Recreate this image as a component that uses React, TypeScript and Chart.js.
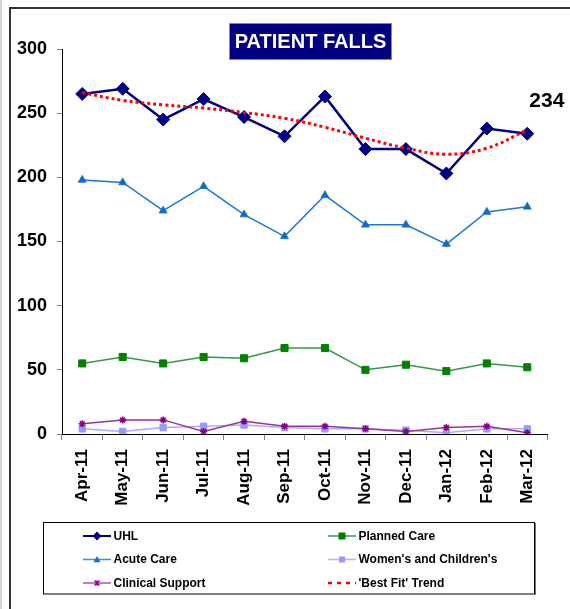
import React, { useEffect, useRef } from 'react';
import { Chart, registerables } from 'chart.js';

Chart.register(...registerables);

const FONT = '"Liberation Sans", Arial, Helvetica, sans-serif';

const months = ['Apr-11', 'May-11', 'Jun-11', 'Jul-11', 'Aug-11', 'Sep-11', 'Oct-11', 'Nov-11', 'Dec-11', 'Jan-12', 'Feb-12', 'Mar-12'];
const uhl = [265, 269, 245, 261, 247, 232, 263, 222, 222, 203, 238, 234];
const plannedCare = [55, 60, 55, 60, 59, 67, 67, 50, 54, 49, 55, 52];
const acuteCare = [198, 196, 174, 193, 171, 154, 186, 163, 163, 148, 173, 177];
const womensChildrens = [4, 2, 5, 6, 7, 5, 4, 4, 3, 1, 4, 4];
const clinicalSupport = [8, 11, 11, 2, 10, 6, 6, 4, 2, 5, 6, 1];
const bestFitTrend = [266, 260, 256.5, 254, 250.5, 246, 239, 230.5, 222.7, 218, 222.7, 237];
const yMin = 0;
const yMax = 300;
const yStep = 50;
const title = 'PATIENT FALLS';

type LegendItem = { label: string; color: string; marker: string; dashed?: boolean; lineColor?: string };

function drawMarker(ctx: CanvasRenderingContext2D, kind: string, x: number, y: number, r: number, color: string) {
  ctx.save();
  ctx.fillStyle = color;
  ctx.strokeStyle = color;
  ctx.beginPath();
  if (kind === 'diamond') {
    ctx.moveTo(x - r, y);
    ctx.lineTo(x, y - r);
    ctx.lineTo(x + r, y);
    ctx.lineTo(x, y + r);
    ctx.closePath();
    ctx.fill();
  } else if (kind === 'square') {
    ctx.rect(x - r, y - r, 2 * r, 2 * r);
    ctx.fill();
  } else if (kind === 'triangle') {
    ctx.moveTo(x - r, y + r * 0.8);
    ctx.lineTo(x, y - r);
    ctx.lineTo(x + r, y + r * 0.8);
    ctx.closePath();
    ctx.fill();
  } else if (kind === 'star') {
    ctx.lineWidth = 1.5;
    ctx.moveTo(x - r, y - r);
    ctx.lineTo(x + r, y + r);
    ctx.moveTo(x - r, y + r);
    ctx.lineTo(x + r, y - r);
    ctx.moveTo(x, y - r);
    ctx.lineTo(x, y + r);
    ctx.stroke();
  }
  ctx.restore();
}

const framePlugin = {
  id: 'frame',
  beforeDraw(chart: any) {
    const ctx = chart.ctx as CanvasRenderingContext2D;
    ctx.save();
    ctx.fillStyle = '#ffffff';
    ctx.fillRect(0, 0, chart.width, chart.height);
    ctx.fillStyle = '#d6d6d6';
    ctx.fillRect(0, 0, 2, chart.height);
    ctx.strokeStyle = '#333333';
    ctx.lineWidth = 2;
    ctx.beginPath();
    ctx.moveTo(10, chart.height);
    ctx.lineTo(10, 8);
    ctx.lineTo(chart.width, 8);
    ctx.stroke();
    ctx.restore();
  },
};

const decorPlugin = {
  id: 'decor',
  afterDraw(chart: any) {
    const ctx = chart.ctx as CanvasRenderingContext2D;
    ctx.save();
    // Title box
    ctx.fillStyle = '#000080';
    ctx.fillRect(229.5, 23.5, 162, 36);
    ctx.strokeStyle = '#8a8a8a';
    ctx.lineWidth = 1;
    ctx.strokeRect(229.5, 23.5, 162, 36);
    ctx.fillStyle = '#ffffff';
    ctx.font = `bold 20px ${FONT}`;
    ctx.textAlign = 'center';
    ctx.textBaseline = 'middle';
    ctx.fillText(title, 310.5, 42);

    // Last value label
    const meta = chart.getDatasetMeta(1);
    const last = meta.data[meta.data.length - 1];
    ctx.fillStyle = '#000000';
    ctx.font = `bold 21px ${FONT}`;
    ctx.textAlign = 'left';
    ctx.fillText(String(uhl[uhl.length - 1]), last.x + 2, last.y - 32);

    // Legend
    ctx.strokeStyle = '#000000';
    ctx.lineWidth = 1;
    ctx.strokeRect(43.5, 522.5, 491, 71.5);
    ctx.strokeStyle = '#777777';
    ctx.beginPath();
    ctx.moveTo(535.5, 523);
    ctx.lineTo(535.5, 595);
    ctx.stroke();

    const items: LegendItem[] = [
      { label: 'UHL', color: '#000080', marker: 'diamond' },
      { label: 'Planned Care', color: '#008000', marker: 'square', lineColor: '#2e9a4a' },
      { label: 'Acute Care', color: '#1a6fce', marker: 'triangle', lineColor: '#3a8ee0' },
      { label: "Women's and Children's", color: '#9999ff', marker: 'square', lineColor: '#b3b3ff' },
      { label: 'Clinical Support', color: '#990099', marker: 'star', lineColor: '#b34db3' },
      { label: "'Best Fit' Trend", color: '#ff0000', marker: 'none', dashed: true },
    ];
    const rows = [536, 559.5, 583];
    const cols = [[83, 111], [328, 356]];
    items.forEach((it, i) => {
      const col = cols[i % 2];
      const y = rows[Math.floor(i / 2)];
      ctx.save();
      ctx.strokeStyle = it.lineColor || it.color;
      if (it.dashed) {
        ctx.lineWidth = 2.5;
        ctx.setLineDash([4, 5]);
      } else {
        ctx.lineWidth = it.marker === 'diamond' ? 2 : 1.5;
      }
      ctx.beginPath();
      ctx.moveTo(col[0], y);
      ctx.lineTo(col[1], y);
      ctx.stroke();
      ctx.restore();
      const mx = (col[0] + col[1]) / 2;
      if (it.marker === 'diamond') drawMarker(ctx, 'diamond', mx, y, 4.5, it.color);
      else if (it.marker === 'square') drawMarker(ctx, 'square', mx, y, it.label === 'Planned Care' ? 3.5 : 3, it.color);
      else if (it.marker === 'triangle') drawMarker(ctx, 'triangle', mx, y, 3.5, it.color);
      else if (it.marker === 'star') drawMarker(ctx, 'star', mx, y, 2.5, it.color);
      ctx.fillStyle = '#000000';
      ctx.font = `bold 12px ${FONT}`;
      ctx.textAlign = 'left';
      ctx.textBaseline = 'middle';
      ctx.fillText(it.label, col[1] + 2.5, y + 0.5);
    });
    ctx.restore();
  },
};

export default function App() {
  const canvasRef = useRef<HTMLCanvasElement | null>(null);

  useEffect(() => {
    if (!canvasRef.current) return;
    const chart = new Chart(canvasRef.current, {
      type: 'line',
      data: {
        labels: months,
        datasets: [
          {
            label: "'Best Fit' Trend",
            data: bestFitTrend,
            borderColor: '#ff0000',
            borderWidth: 3,
            borderDash: [3, 3],
            pointRadius: 0,
            tension: 0.4,
            fill: false,
            order: 0,
          },
          {
            label: 'UHL',
            data: uhl,
            borderColor: '#000080',
            backgroundColor: '#000080',
            borderWidth: 2.5,
            pointStyle: 'rectRot',
            pointRadius: 6.5,
            pointBorderWidth: 1,
            order: 1,
          },
          {
            label: 'Acute Care',
            data: acuteCare,
            borderColor: '#1a78d6',
            backgroundColor: '#1466c8',
            borderWidth: 1.5,
            pointStyle: 'triangle',
            pointRadius: 4.5,
            pointBorderWidth: 1,
            order: 2,
          },
          {
            label: 'Planned Care',
            data: plannedCare,
            borderColor: '#2e9a4a',
            backgroundColor: '#008000',
            pointBorderColor: '#008000',
            borderWidth: 1.5,
            pointStyle: 'rect',
            pointRadius: 5,
            pointBorderWidth: 1,
            order: 3,
          },
          {
            label: 'Clinical Support',
            data: clinicalSupport,
            borderColor: '#993399',
            backgroundColor: '#880088',
            pointBorderColor: '#880088',
            borderWidth: 1.5,
            pointStyle: 'star',
            pointRadius: 3.5,
            pointBorderWidth: 1.5,
            order: 4,
          },
          {
            label: "Women's and Children's",
            data: womensChildrens,
            borderColor: '#aaaaff',
            backgroundColor: '#9999ff',
            pointBorderColor: '#9999ff',
            borderWidth: 1.5,
            pointStyle: 'rect',
            pointRadius: 4.5,
            pointBorderWidth: 1,
            order: 5,
          },
        ],
      },
      options: {
        responsive: false,
        animation: false,
        devicePixelRatio: 1,
        layout: { padding: { left: 0, right: 22.5, top: 49, bottom: 95 } },
        plugins: {
          legend: { display: false },
          title: { display: false },
          tooltip: { enabled: false },
        },
        scales: {
          x: {
            type: 'category',
            offset: true,
            afterFit: (s: any) => {
              s.height = 80;
            },
            grid: {
              display: true,
              offset: true,
              drawOnChartArea: false,
              drawTicks: true,
              tickLength: 6,
              color: '#808080',
            },
            border: { display: true, color: '#000000', width: 1 },
            ticks: {
              autoSkip: false,
              minRotation: 90,
              maxRotation: 90,
              padding: 9,
              color: '#000000',
              font: { family: FONT, size: 17, weight: 'bold' },
            },
          },
          y: {
            min: yMin,
            max: yMax,
            afterFit: (s: any) => {
              s.width = 62;
            },
            grid: {
              display: true,
              drawOnChartArea: false,
              drawTicks: true,
              tickLength: 5,
              color: '#808080',
            },
            border: { display: true, color: '#000000', width: 1 },
            ticks: {
              stepSize: yStep,
              padding: 10,
              color: '#000000',
              font: { family: FONT, size: 18, weight: 'bold' },
            },
          },
        },
      },
      plugins: [framePlugin, decorPlugin],
    } as any);
    return () => chart.destroy();
  }, []);

  return (
    <div style={{ position: 'absolute', left: 0, top: 0, width: 570, height: 609, background: '#ffffff' }}>
      <canvas ref={canvasRef} width={570} height={609} style={{ width: 570, height: 609, display: 'block' }} />
    </div>
  );
}
